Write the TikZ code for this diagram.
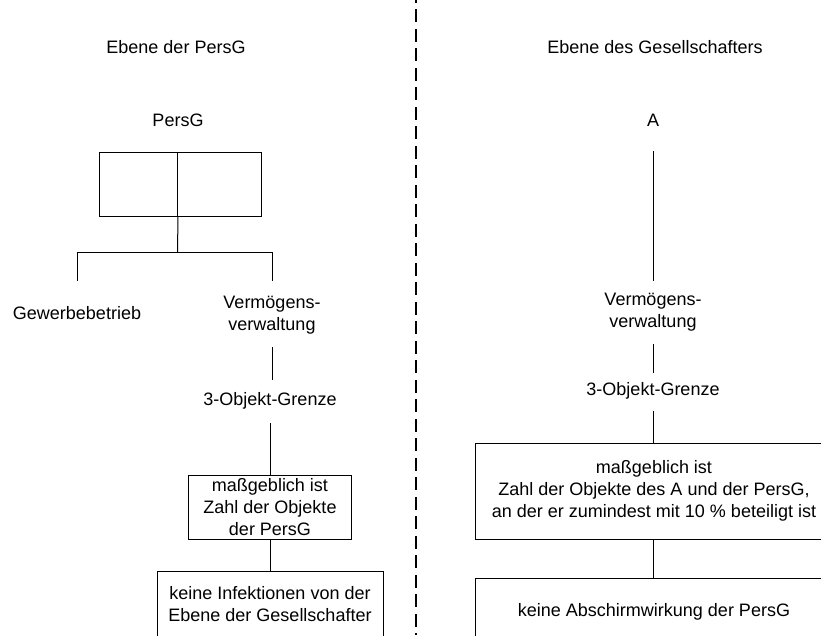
\documentclass[tikz,border=0pt]{standalone}
\usepackage{fontspec}
\setmainfont{Liberation Sans}
\begin{document}
\begin{tikzpicture}[x=1pt,y=-1pt,
  every node/.style={font=\fontsize{18}{22}\selectfont, inner sep=0pt},
  txt/.style={align=center},
  frame/.style={draw, line width=1pt, align=center},
  link/.style={line width=1pt},
  divider/.style={line width=2.5pt, dash pattern=on 13pt off 6.5pt, dash phase=10.2pt}]
\useasboundingbox (0,0) rectangle (821,635);
\clip (0,0) rectangle (821,635);

% level headings and separator
\node[txt] (h1) at (176,47) {Ebene der PersG};
\node[txt] (h2) at (655,47) {Ebene des Gesellschafters};
\coordinate (dtop) at (416,0);
\coordinate (dbot) at (416,635);
\draw[divider] (dtop) -- (dbot);

% partnership side
\node[txt] (persg) at (178,120) {PersG};
\node[frame, minimum width=78pt, minimum height=64pt] (pl) at (138.5,184) {};
\node[frame, minimum width=84pt, minimum height=64pt] (pr) at (219.5,184) {};
\coordinate (j) at (177.5,252);
\node[txt] (gw) at (77,313) {Gewerbebetrieb};
\node[txt] (vv1) at (272,315) {Vermögens-\\verwaltung};
\node[txt] (og1) at (270,401) {3-Objekt-Grenze};
\node[frame, minimum width=163pt, minimum height=64pt] (m1) at (270,507)
  {maßgeblich ist\\Zahl der Objekte\\der PersG};
\node[frame, minimum width=226pt, minimum height=66pt] (k1) at (270,604)
  {keine Infektionen von der\\Ebene der Gesellschafter};

\draw[link] (pl.south east) -- (j);
\draw[link, shorten <=32pt, shorten >=34pt]
  (gw.center) -- (gw.center |- j) -- (vv1.center |- j) -- (vv1.center);
\draw[link, shorten <=32pt, shorten >=21pt] (vv1.center) -- (vv1.center |- og1.center);
\draw[link, shorten <=22pt] (og1.center) -- (m1.north);
\draw[link] (m1.south) -- (k1.north);

% partner side
\node[txt] (A) at (653,120) {A};
\node[txt] (vv2) at (653,312) {Vermögens-\\verwaltung};
\node[txt] (og2) at (653,391) {3-Objekt-Grenze};
\node[frame, minimum width=358pt, minimum height=96pt] (m2) at (654,491)
  {maßgeblich ist\\Zahl der Objekte des A und der PersG,\\an der er zumindest mit 10 \% beteiligt ist};
\node[frame, minimum width=358pt, minimum height=68pt] (k2) at (654,612)
  {keine Abschirmwirkung der PersG};

\draw[link, shorten <=31pt, shorten >=31pt] (A.center) -- (vv2.center);
\draw[link, shorten <=32pt, shorten >=18pt] (vv2.center) -- (og2.center);
\draw[link, shorten <=20pt] (og2.center) -- (og2.center |- m2.north);
\draw[link] (m2.south -| og2.center) -- (k2.north -| og2.center);
\end{tikzpicture}
\end{document}
